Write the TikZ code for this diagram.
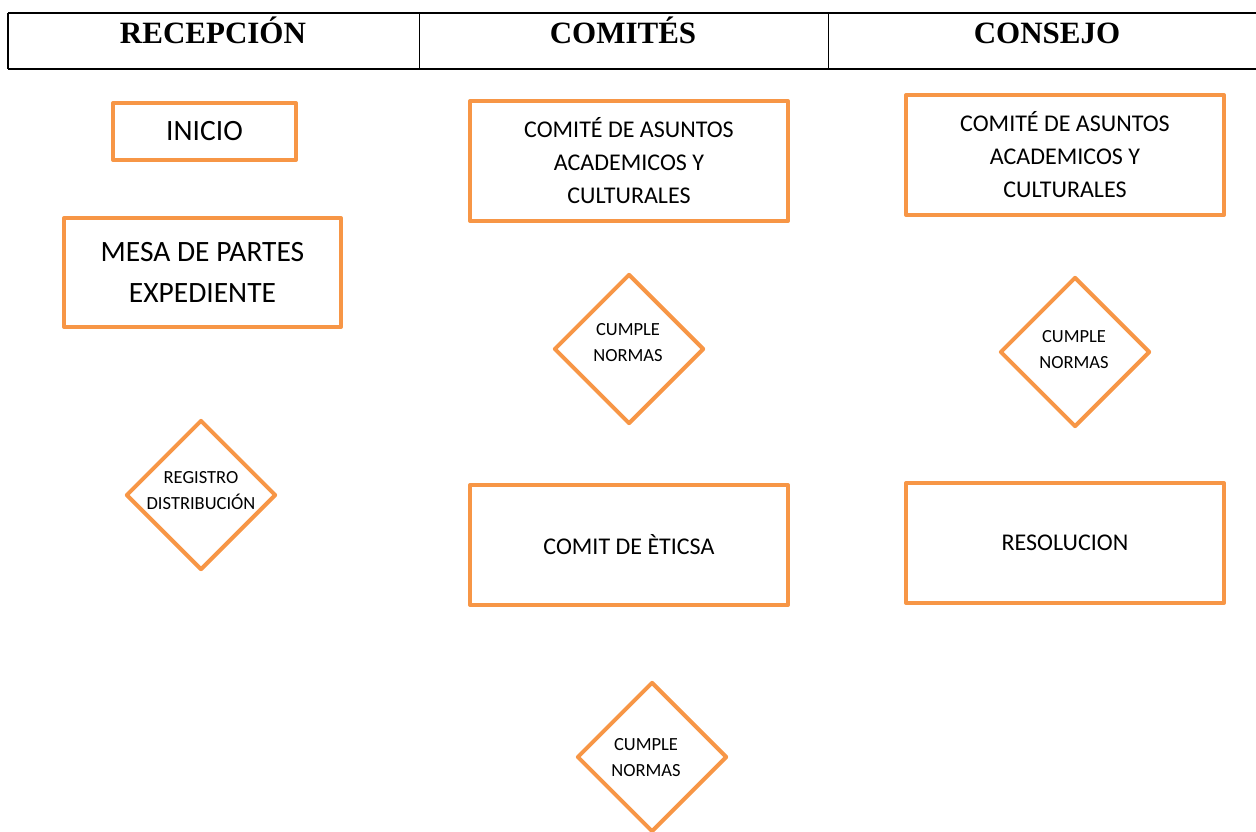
\documentclass[tikz,border=0pt]{standalone}
\usepackage{fontspec}
\setmainfont{Carlito}
\newfontfamily\hdrfont{Liberation Serif}
\usetikzlibrary{shapes.geometric}
\definecolor{orng}{HTML}{F79646}
\tikzset{
  box/.style={draw=orng, line width=4pt, line join=round, fill=white, inner sep=0pt, align=center},
  dia/.style={diamond, draw=orng, line width=4pt, line join=round, fill=white, inner sep=0pt, minimum width=150pt, minimum height=150pt},
  dtext/.style={align=center, font=\fontsize{18.5}{26}\selectfont, inner sep=0pt},
  hdr/.style={font=\hdrfont\bfseries\fontsize{31}{36}\selectfont, inner sep=0pt, anchor=base},
  big/.style={font=\fontsize{29.5}{41}\selectfont},
  mid/.style={font=\fontsize{24}{33}\selectfont},
  rule/.style={line width=1.8pt, black}
}
\begin{document}
\begin{tikzpicture}[x=1pt,y=-1pt]
\useasboundingbox (0,0) rectangle (1256,832);
% header table
\coordinate (tl) at (8,13);
\coordinate (tr) at (1258,13);
\coordinate (bl) at (8,69);
\coordinate (br) at (1258,69);
\coordinate (d1t) at (419,13);
\coordinate (d1b) at (419,69);
\coordinate (d2t) at (828,13);
\coordinate (d2b) at (828,69);
\draw[rule] (tl) -- (tr);
\draw[rule, line width=2.5pt] (bl) -- (br);
\draw[rule] (tl) -- (bl);
\draw[line width=1pt] (d1t) -- (d1b);
\draw[line width=1pt] (d2t) -- (d2b);
\node[hdr] (h1) at (213,44) {RECEPCIÓN};
\node[hdr] (h2) at (623,44) {COMITÉS};
\node[hdr] (h3) at (1047,44) {CONSEJO};
% column 1
\node[box, big, minimum width=183pt, minimum height=57pt] (inicio) at (204.5,131.5) {INICIO};
\node[box, big, minimum width=277pt, minimum height=109pt] (mesa) at (202.5,272.5) {MESA DE PARTES\\EXPEDIENTE};
\node[dia] (reg) at (201,495) {};
\node[dtext] (regt) at (201,491) {REGISTRO\\DISTRIBUCIÓN};
% column 2
\node[box, mid, minimum width=318pt, minimum height=120pt] (com1) at (629,161) {COMITÉ DE ASUNTOS\\ACADEMICOS Y\\CULTURALES};
\node[dia] (cn1) at (629,349) {};
\node[dtext] (cn1t) at (628,343) {CUMPLE\\NORMAS};
\node[box, mid, minimum width=318pt, minimum height=120pt] (etica) at (629,545) {COMIT DE ÈTICSA};
\node[dia] (cn2) at (652,757) {};
\node[dtext] (cn2t) at (646,758) {CUMPLE\\NORMAS};
% column 3
\node[box, mid, minimum width=318pt, minimum height=120pt] (com2) at (1065,155) {COMITÉ DE ASUNTOS\\ACADEMICOS Y\\CULTURALES};
\node[dia] (cn3) at (1075,352) {};
\node[dtext] (cn3t) at (1074,350) {CUMPLE\\NORMAS};
\node[box, mid, minimum width=318pt, minimum height=120pt] (res) at (1065,543) {RESOLUCION};
\end{tikzpicture}
\end{document}
